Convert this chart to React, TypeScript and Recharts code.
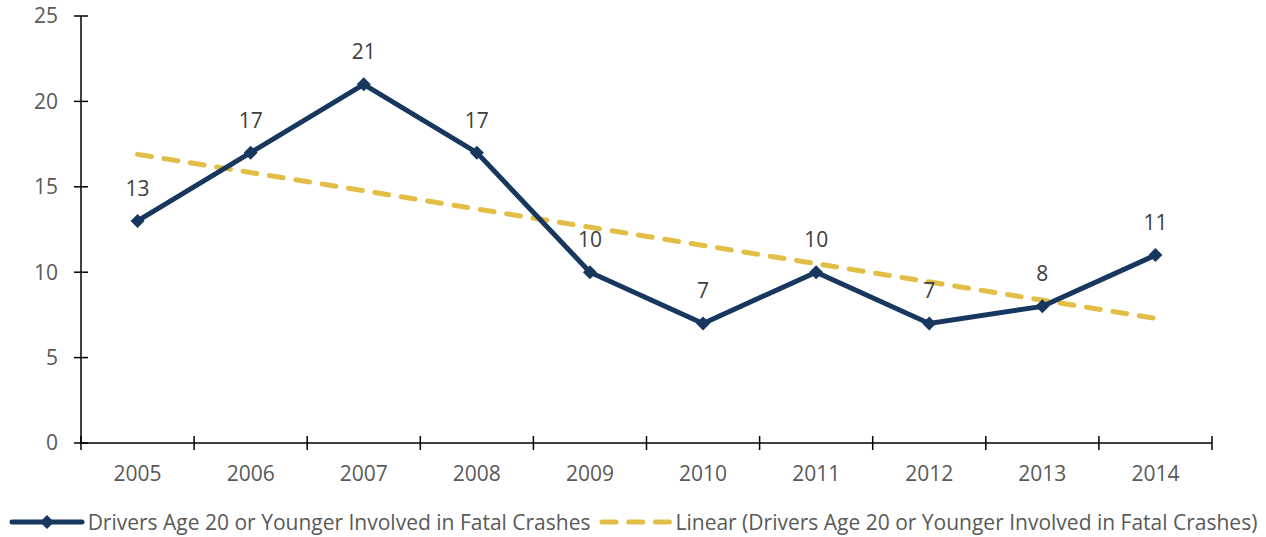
import React from 'react';
import { ComposedChart, Line, XAxis, YAxis, Legend, LabelList } from 'recharts';

const years = ['2005', '2006', '2007', '2008', '2009', '2010', '2011', '2012', '2013', '2014'];
const drivers = [13, 17, 21, 17, 10, 7, 10, 7, 8, 11];
// trendline at its two ends
const trend: (number | null)[] = [16.9, null, null, null, null, null, null, null, null, 7.3];
const yTicks = [0, 5, 10, 15, 20, 25];

const seriesName = 'Drivers Age 20 or Younger Involved in Fatal Crashes';
const trendName = 'Linear (Drivers Age 20 or Younger Involved in Fatal Crashes)';

const NAVY = '#17375E';
const GOLD = '#E3BE47';
const FONT = '"Open Sans", sans-serif';

// each year sits in the middle of its slot; tick marks fall on slot edges
const data = years.map((year, i) => ({ x: i + 0.5, year, drivers: drivers[i], trend: trend[i] }));
const xTicks: number[] = [];
for (let i = 0; i <= years.length; i++) {
  xTicks.push(i);
  if (i < years.length) xTicks.push(i + 0.5);
}

const Diamond = (props: any) => {
  const { cx, cy, index } = props;
  if (cx == null || cy == null) return <g key={index} />;
  return (
    <path
      key={index}
      d={`M${cx},${cy - 7}L${cx + 7},${cy}L${cx},${cy + 7}L${cx - 7},${cy}Z`}
      fill={NAVY}
    />
  );
};

const XTick = (props: any) => {
  const { x, y, payload } = props;
  const v = payload.value;
  if (Number.isInteger(v)) {
    return <line x1={x} x2={x} y1={y - 7} y2={y + 7} stroke="#000" strokeWidth={1.5} />;
  }
  return (
    <text x={x} y={y + 31} dy="0.35em" textAnchor="middle" fill="#595959" fontSize={21} fontFamily={FONT}>
      {years[Math.floor(v)]}
    </text>
  );
};

const YTick = (props: any) => {
  const { x, y, payload } = props;
  return (
    <g>
      <line x1={x - 7} x2={x + 7} y1={y} y2={y} stroke="#000" strokeWidth={1.5} />
      <text x={x - 23} y={y} dy="0.35em" textAnchor="end" fill="#595959" fontSize={21} fontFamily={FONT}>
        {payload.value}
      </text>
    </g>
  );
};

const LegendContent = () => (
  <div
    style={{
      display: 'flex',
      justifyContent: 'center',
      alignItems: 'center',
      height: 44,
      paddingTop: 14,
      boxSizing: 'border-box',
      fontFamily: FONT,
      fontSize: 21,
      color: '#595959',
      whiteSpace: 'nowrap',
    }}
  >
    <svg width={76} height={16} style={{ marginRight: 3 }}>
      <line x1={3} x2={73} y1={8} y2={8} stroke={NAVY} strokeWidth={5} strokeLinecap="round" />
      <path d="M38,1L45,8L38,15L31,8Z" fill={NAVY} />
    </svg>
    <span>{seriesName}</span>
    <svg width={76} height={16} style={{ marginLeft: 8, marginRight: 1 }}>
      <line
        x1={4}
        x2={72}
        y1={8}
        y2={8}
        stroke={GOLD}
        strokeWidth={5}
        strokeLinecap="round"
        strokeDasharray="14 12.7"
      />
    </svg>
    <span>{trendName}</span>
  </div>
);

export default function App() {
  return (
    <div style={{ position: 'absolute', left: 0, top: 0, width: 1266, height: 537, background: '#fff' }}>
      <ComposedChart
        width={1266}
        height={537}
        data={data}
        margin={{ top: 16, right: 54, bottom: 0, left: 0 }}
      >
        <XAxis
          dataKey="x"
          type="number"
          domain={[0, years.length]}
          ticks={xTicks}
          interval={0}
          allowDataOverflow
          height={50}
          tickSize={0}
          tickMargin={0}
          tickLine={false}
          tick={<XTick />}
          axisLine={{ stroke: '#000', strokeWidth: 1.5 }}
        />
        <YAxis
          width={81}
          domain={[0, 25]}
          ticks={yTicks}
          tickSize={0}
          tickMargin={0}
          tickLine={false}
          tick={<YTick />}
          axisLine={{ stroke: '#000', strokeWidth: 1.5 }}
        />
        <Legend
          verticalAlign="bottom"
          height={44}
          content={<LegendContent />}
          wrapperStyle={{ left: 0, width: 1266 }}
        />
        <Line
          dataKey="trend"
          name={trendName}
          stroke={GOLD}
          strokeWidth={5}
          strokeLinecap="round"
          strokeDasharray="14 12.7"
          dot={false}
          activeDot={false}
          connectNulls
          isAnimationActive={false}
        />
        <Line
          dataKey="drivers"
          name={seriesName}
          stroke={NAVY}
          strokeWidth={5}
          dot={<Diamond />}
          activeDot={false}
          isAnimationActive={false}
        >
          <LabelList
            dataKey="drivers"
            position="top"
            offset={25}
            fill="#404040"
            fontSize={21}
            fontFamily={FONT}
          />
        </Line>
      </ComposedChart>
    </div>
  );
}
